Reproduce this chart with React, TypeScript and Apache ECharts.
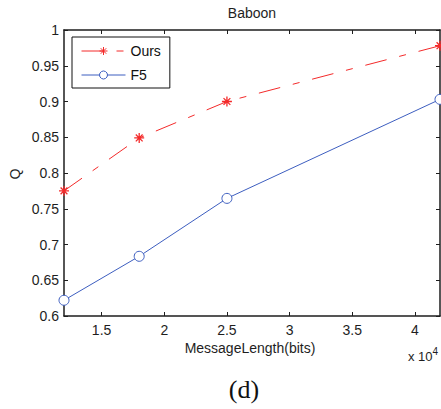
import React, { useEffect, useRef } from "react";
import * as echarts from "echarts";

// Message length in units of 10^4 bits
const messageLength = [1.2, 1.8, 2.5, 4.2];
const oursQ = [0.775, 0.849, 0.9, 0.978];
const f5Q = [0.622, 0.6835, 0.7645, 0.903];
const xTicks = [1.5, 2, 2.5, 3, 3.5, 4];
const seriesNames = ["Ours", "F5"];

const FONT = "'Liberation Sans', Arial, Helvetica, sans-serif";
const AXIS = "#1e1e1e";
const RED = "#f42a2a";
const BLUE = "#3d5ec0";

const ASTERISK = "path://M5,0L5,10M0,5L10,5M1.6,1.6L8.4,8.4M8.4,1.6L1.6,8.4";

const pairs = (ys: number[]) => messageLength.map((x, i) => [x, ys[i]]);

export default function App() {
  const ref = useRef<HTMLDivElement>(null);

  useEffect(() => {
    if (!ref.current) return;
    const chart = echarts.init(ref.current, null, { renderer: "svg" });

    const axisLine = { show: true, lineStyle: { color: AXIS, width: 1.5 } };
    const tick = { show: true, inside: true, length: 4, lineStyle: { color: AXIS, width: 1 } };

    chart.setOption({
      animation: false,
      backgroundColor: "#ffffff",
      grid: { left: 64, top: 30, width: 376, height: 286, containLabel: false },
      xAxis: [
        {
          type: "value",
          min: 1.2,
          max: 4.2,
          position: "bottom",
          axisLine,
          axisTick: { ...tick, customValues: xTicks },
          axisLabel: {
            customValues: xTicks,
            margin: 7,
            fontFamily: FONT,
            fontSize: 14,
            color: AXIS,
            formatter: (v: number) => String(v),
          },
          splitLine: { show: false },
        },
        {
          type: "value",
          min: 1.2,
          max: 4.2,
          position: "top",
          axisLine,
          axisTick: { ...tick, customValues: xTicks },
          axisLabel: { show: false },
          splitLine: { show: false },
        },
      ],
      yAxis: [
        {
          type: "value",
          min: 0.6,
          max: 1,
          interval: 0.05,
          position: "left",
          axisLine,
          axisTick: tick,
          axisLabel: {
            margin: 5,
            fontFamily: FONT,
            fontSize: 14,
            color: AXIS,
            formatter: (v: number) => String(Math.round(v * 100) / 100),
          },
          splitLine: { show: false },
        },
        {
          type: "value",
          min: 0.6,
          max: 1,
          interval: 0.05,
          position: "right",
          axisLine,
          axisTick: tick,
          axisLabel: { show: false },
          splitLine: { show: false },
        },
      ],
      legend: {
        data: seriesNames,
        orient: "vertical",
        left: 72,
        top: 37,
        itemWidth: 44,
        itemHeight: 10,
        itemGap: 10,
        padding: [7, 9, 6, 9],
        borderColor: "#111",
        borderWidth: 1,
        backgroundColor: "#fff",
        lineStyle: { width: 1 },
        itemStyle: { borderWidth: 1 },
        textStyle: { fontFamily: FONT, fontSize: 14, color: "#111" },
      },
      series: [
        {
          name: seriesNames[0],
          type: "line",
          data: pairs(oursQ),
          clip: false,
          symbol: ASTERISK,
          symbolSize: 10,
          lineStyle: { color: RED, width: 1, type: [22, 13, 7, 13] },
          itemStyle: { color: RED, borderColor: RED, borderWidth: 1.3 },
        },
        {
          name: seriesNames[1],
          type: "line",
          data: pairs(f5Q),
          clip: false,
          symbol: "circle",
          symbolSize: 10,
          lineStyle: { color: BLUE, width: 1 },
          itemStyle: { color: "#ffffff", borderColor: BLUE, borderWidth: 1 },
        },
      ],
      graphic: [
        {
          type: "text",
          x: 252,
          y: 13,
          style: { text: "Baboon", font: `14px ${FONT}`, fill: AXIS, align: "center", verticalAlign: "middle" },
        },
        {
          type: "text",
          x: 15,
          y: 174,
          rotation: Math.PI / 2,
          style: { text: "Q", font: `14px ${FONT}`, fill: AXIS, align: "center", verticalAlign: "middle" },
        },
        {
          type: "text",
          x: 250,
          y: 348,
          style: {
            text: "MessageLength(bits)",
            font: `14px ${FONT}`,
            fill: AXIS,
            align: "center",
            verticalAlign: "middle",
          },
        },
        {
          type: "text",
          x: 408,
          y: 356,
          style: {
            text: "{b|x 10}{s|4}",
            fill: AXIS,
            align: "left",
            verticalAlign: "middle",
            rich: {
              b: { font: `13px ${FONT}`, fill: AXIS },
              s: { font: `10px ${FONT}`, fill: AXIS, padding: [0, 0, 9, 0] },
            },
          },
        },
        {
          type: "text",
          x: 244,
          y: 389,
          style: {
            text: "(d)",
            font: "26px 'Liberation Serif', 'Times New Roman', serif",
            fill: "#111",
            align: "center",
            verticalAlign: "middle",
          },
        },
      ],
    });

    return () => chart.dispose();
  }, []);

  return (
    <div
      ref={ref}
      style={{ position: "absolute", left: 0, top: 0, width: 441, height: 409, background: "#fff" }}
    />
  );
}
